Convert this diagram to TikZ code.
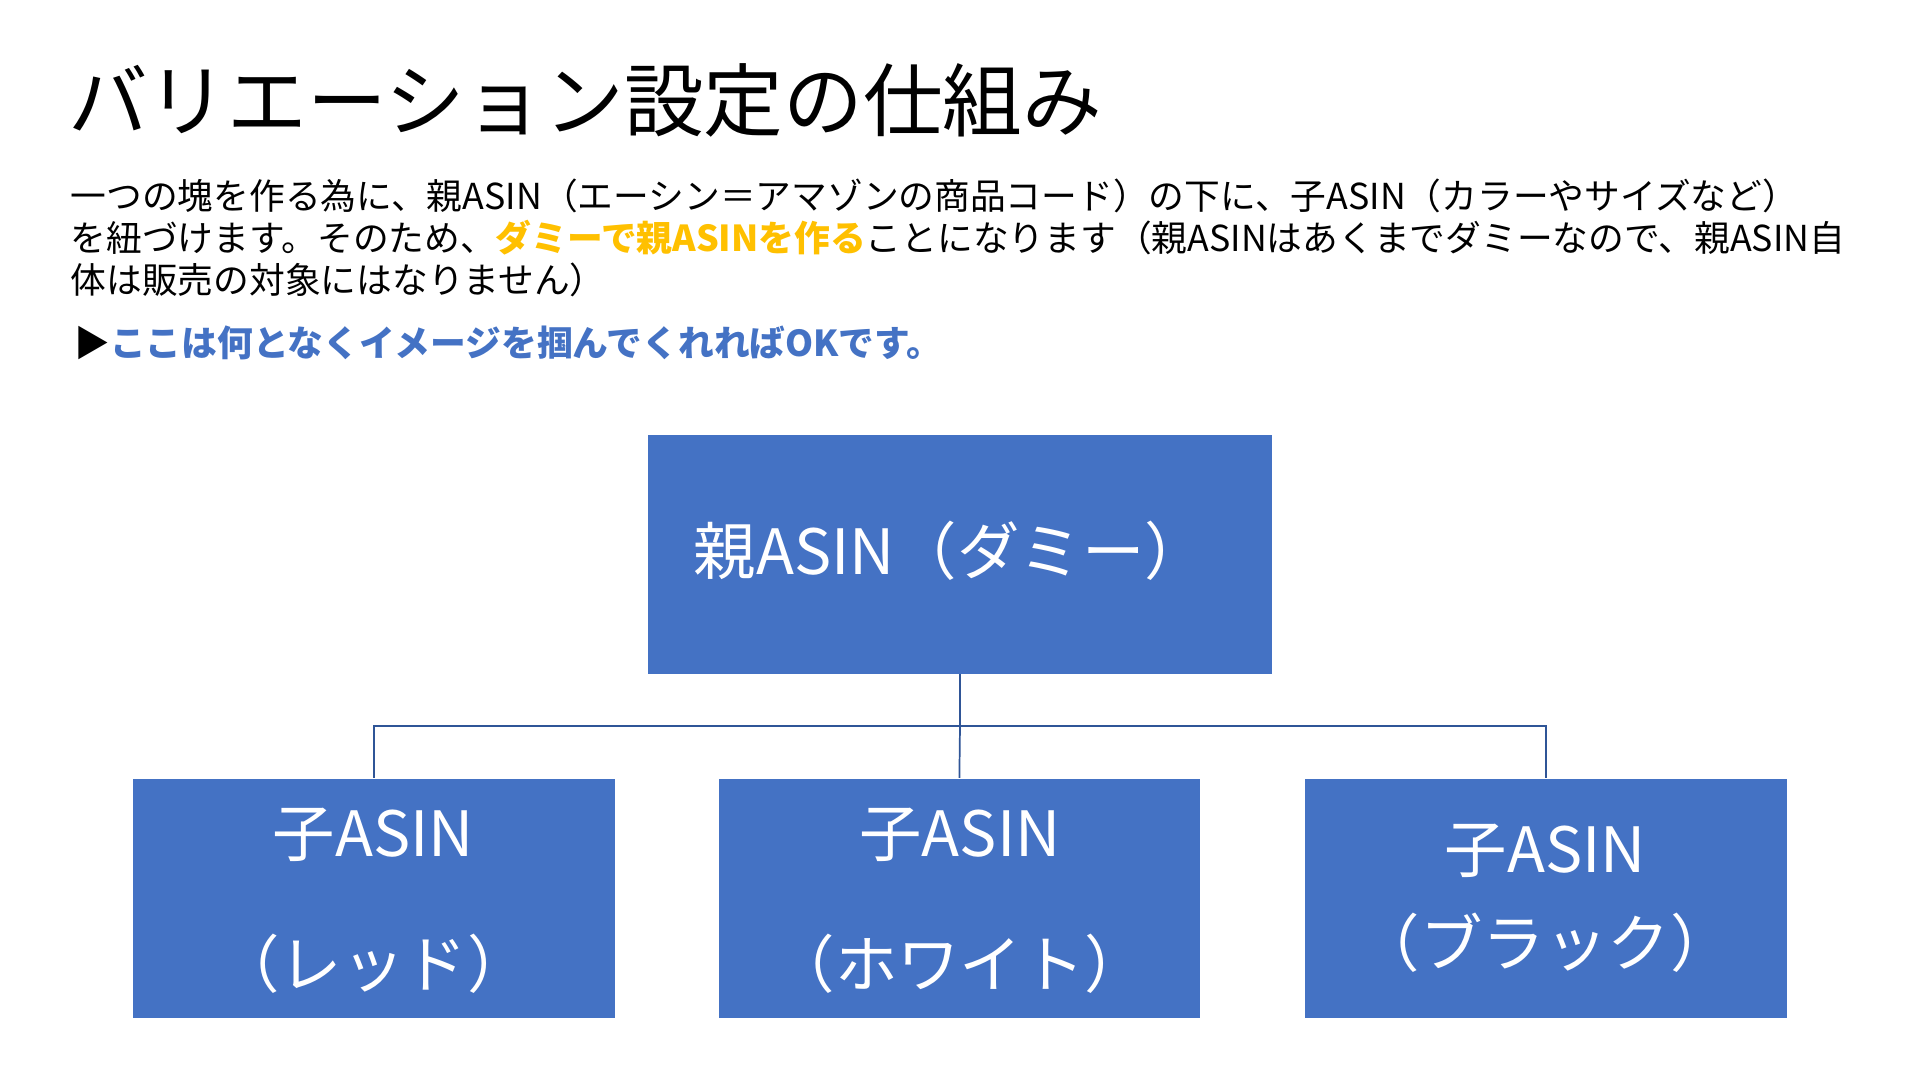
\documentclass[tikz,border=0pt]{standalone}
\usepackage{fontspec}
\setmainfont{Noto Sans CJK JP}
\definecolor{boxblue}{HTML}{4472C4}
\definecolor{linec}{HTML}{2F5597}
\definecolor{orng}{HTML}{FFC000}
\begin{document}
\begin{tikzpicture}[x=0.01cm,y=-0.01cm,
  bx/.style={fill=boxblue,draw=none,inner sep=0,text=white,align=center},
  para/.style={anchor=west,inner sep=0,font=\fontsize{8.3pt}{10pt}\selectfont},
  conn/.style={draw=linec,line width=0.4pt}]
\useasboundingbox (0,0) rectangle (1568,882);
\node[anchor=west,inner sep=0,font=\fontsize{18.5pt}{22pt}\selectfont] (title) at (55,82) {バリエーション設定の仕組み};
\node[para] (l1) at (57,160) {一つの塊を作る為に、親ASIN（エーシン＝アマゾンの商品コード）の下に、子ASIN（カラーやサイズなど）};
\node[para] (l2) at (57,194) {を紐づけます。そのため、\textcolor{orng}{\bfseries ダミーで親ASINを作る}ことになります（親ASINはあくまでダミーなので、親ASIN自};
\node[para] (l3) at (57,229) {体は販売の対象にはなりません）};
\node[para] (l4) at (60,280) {▶\textcolor{boxblue}{\bfseries ここは何となくイメージを掴んでくれればOKです。}};
\path[bx] (529,355) rectangle (1039,550);
\node[bx,minimum width=5.1cm,minimum height=1.95cm] (p) at (784,452.5) {};
\node[anchor=west,inner sep=0,text=white,font=\fontsize{14.5pt}{17pt}\selectfont] (pt) at (566,450) {親ASIN（ダミー）};
\node[bx,minimum width=3.93cm,minimum height=1.95cm] (c1) at (305.5,733.5) {};
\node[bx,minimum width=3.93cm,minimum height=1.95cm] (c2) at (783.5,733.5) {};
\node[bx,minimum width=3.93cm,minimum height=1.95cm] (c3) at (1262.5,733.5) {};
\node[text=white,inner sep=0,font=\fontsize{14.5pt}{17pt}\selectfont] (c1a) at (305,682) {子ASIN};
\node[text=white,inner sep=0,font=\fontsize{14.5pt}{17pt}\selectfont] (c1b) at (305,787) {（レッド）};
\node[text=white,inner sep=0,font=\fontsize{14.5pt}{17pt}\selectfont] (c2a) at (784,682) {子ASIN};
\node[text=white,inner sep=0,font=\fontsize{14.5pt}{17pt}\selectfont] (c2b) at (784,787) {（ホワイト）};
\node[text=white,inner sep=0,font=\fontsize{14.5pt}{17pt}\selectfont] (c3a) at (1262,695) {子ASIN};
\node[text=white,inner sep=0,font=\fontsize{14.5pt}{17pt}\selectfont] (c3b) at (1262,770) {（ブラック）};
\coordinate (j) at (784,593);
\draw[conn] (p.south) -- (j);
\draw[conn] (j) -| (c1.north);
\draw[conn] (j) -| (c3.north);
\draw[conn] (j) -- (c2.north);
\end{tikzpicture}
\end{document}
